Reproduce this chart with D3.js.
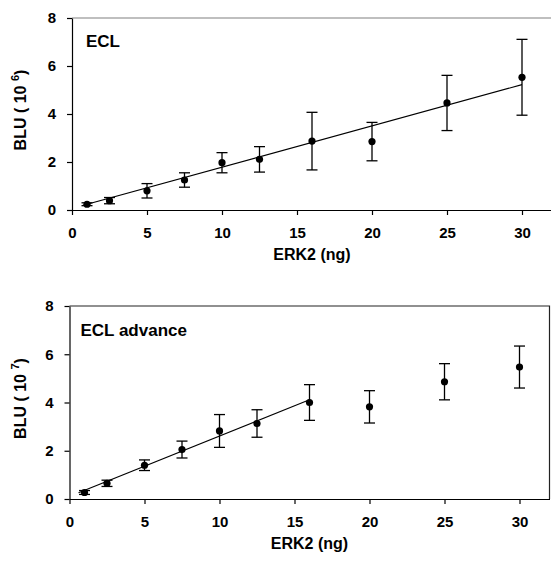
<!DOCTYPE html>
<html>
<head>
<meta charset="utf-8">
<script src="https://cdn.jsdelivr.net/npm/d3@7"></script>
<style>
  body { margin: 0; background: #fff; }
  svg { display: block; font-family: "Liberation Sans", Arial, sans-serif; font-weight: bold; }
</style>
</head>
<body>
<svg id="chart" width="551" height="563"></svg>
<script>
// ERK2 amounts (ng)
const erk2 = [1, 2.5, 5, 7.5, 10, 12.5, 16, 20, 25, 30];

// ECL (BLU x 10^6)
const eclMean = [0.24, 0.39, 0.80, 1.25, 1.97, 2.11, 2.87, 2.85, 4.46, 5.53];
const eclErr  = [0.06, 0.13, 0.30, 0.30, 0.42, 0.53, 1.20, 0.80, 1.15, 1.58];
const eclFitX = [0.7, 30];
const eclFitY = [0.185, 5.225];

// ECL advance (BLU x 10^7)
const advMean = [0.27, 0.65, 1.40, 2.05, 2.82, 3.13, 4.00, 3.82, 4.86, 5.47];
const advErr  = [0.08, 0.13, 0.22, 0.35, 0.68, 0.57, 0.74, 0.67, 0.75, 0.87];
const advFitX = [0.6, 16];
const advFitY = [0.26, 4.11];

const xTicks = [0, 5, 10, 15, 20, 25, 30];
const yTicks = [0, 2, 4, 6, 8];

const svg = d3.select("#chart");

function panel(opts) {
  const { left, top, height, label, exp, mean, err, fitX, fitY, frameColor } = opts;
  const width = 480;
  const g = svg.append("g").attr("transform", `translate(${left},${top})`);

  const x = d3.scaleLinear().domain([0, 32]).range([0, width]);
  const y = d3.scaleLinear().domain([0, 8]).range([height, 0]);

  // frame top/right
  g.append("path")
    .attr("d", `M0,0H${width}V${height}`)
    .attr("fill", "none")
    .attr("stroke", frameColor)
    .attr("stroke-width", 1.2);

  const xAxis = g.append("g")
    .attr("transform", `translate(0,${height})`)
    .call(d3.axisBottom(x).tickValues(xTicks).tickSize(5).tickPadding(12).tickSizeOuter(0));
  const yAxis = g.append("g")
    .call(d3.axisLeft(y).tickValues(yTicks).tickSize(5).tickPadding(11).tickSizeOuter(0));

  [xAxis, yAxis].forEach(a => {
    a.select(".domain").attr("stroke", "#000").attr("stroke-width", 1.2);
    a.selectAll(".tick line").attr("stroke", "#000").attr("stroke-width", 1.2);
    a.selectAll(".tick text")
      .attr("font-size", 15).attr("font-weight", "bold")
      .attr("font-family", "Liberation Sans, Arial, sans-serif")
      .attr("fill", "#000");
  });

  // axis titles
  g.append("text")
    .attr("x", width / 2)
    .attr("y", height + 50)
    .attr("text-anchor", "middle")
    .attr("font-size", 16)
    .text("ERK2 (ng)");

  const yt = g.append("text")
    .attr("transform", `translate(${-left + 26},${height / 2 - 4}) rotate(-90)`)
    .attr("text-anchor", "middle")
    .attr("font-size", 16);
  yt.append("tspan").text("BLU ( 10 ");
  yt.append("tspan").attr("font-size", 11).attr("dy", -7).text(exp);
  yt.append("tspan").attr("dy", 7).text(")");

  // panel label
  g.append("text")
    .attr("x", opts.labelX)
    .attr("y", opts.labelY)
    .attr("font-size", 17)
    .text(label);

  // fit line
  g.append("line")
    .attr("x1", x(fitX[0])).attr("y1", y(fitY[0]))
    .attr("x2", x(fitX[1])).attr("y2", y(fitY[1]))
    .attr("stroke", "#000").attr("stroke-width", 1.1);

  const pts = erk2.map((d, i) => ({ x: d, m: mean[i], e: err[i] }));

  const eb = g.selectAll("g.eb").data(pts).join("g").attr("class", "eb");
  eb.append("line")
    .attr("x1", d => x(d.x)).attr("x2", d => x(d.x))
    .attr("y1", d => y(d.m + d.e)).attr("y2", d => y(d.m - d.e))
    .attr("stroke", "#000").attr("stroke-width", 1.3);
  [1, -1].forEach(s => {
    eb.append("line")
      .attr("x1", d => x(d.x) - 5.5).attr("x2", d => x(d.x) + 5.5)
      .attr("y1", d => y(d.m + s * d.e)).attr("y2", d => y(d.m + s * d.e))
      .attr("stroke", "#000").attr("stroke-width", 1.3);
  });

  g.selectAll("circle.pt").data(pts).join("circle")
    .attr("class", "pt")
    .attr("cx", d => x(d.x)).attr("cy", d => y(d.m))
    .attr("r", 3.6)
    .attr("fill", "#000");
}

panel({
  left: 72, top: 18, height: 192,
  label: "ECL", exp: "6", labelX: 14, labelY: 29,
  mean: eclMean, err: eclErr, fitX: eclFitX, fitY: eclFitY,
  frameColor: "#808080"
});

panel({
  left: 69.5, top: 306, height: 193,
  label: "ECL advance", exp: "7", labelX: 11, labelY: 30,
  mean: advMean, err: advErr, fitX: advFitX, fitY: advFitY,
  frameColor: "#222"
});
</script>
</body>
</html>
